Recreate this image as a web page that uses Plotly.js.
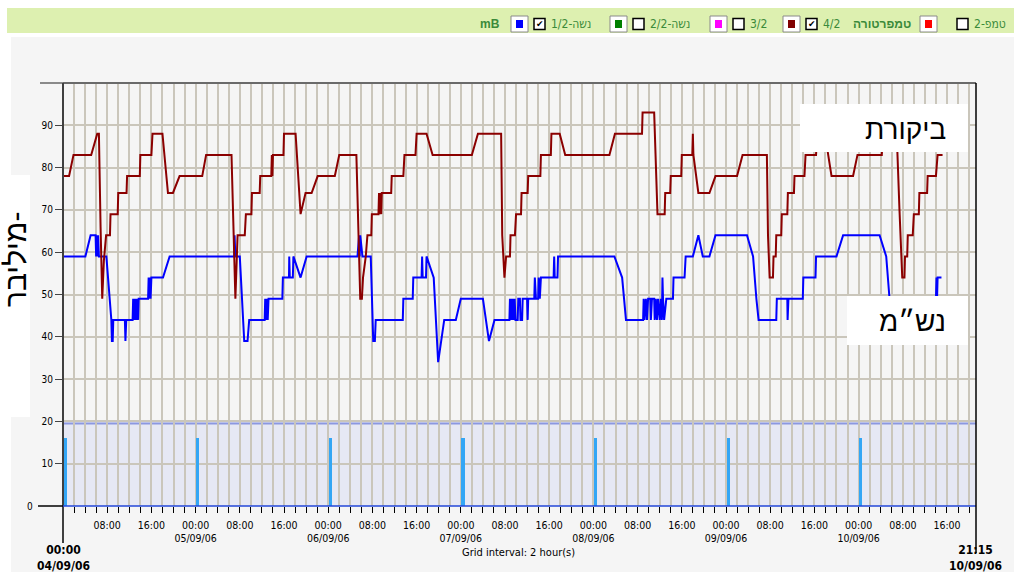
<!DOCTYPE html>
<html><head><meta charset="utf-8">
<script src="https://cdn.plot.ly/plotly-3.0.1.min.js"></script>
<style>html,body{margin:0;padding:0;background:#fff;overflow:hidden}#chart{width:1014px;height:572px}</style>
</head><body><div id="chart"></div>
<script>
// time axis: hours since 04/09/06 00:00
const tempHours = [0,1.1,1.9,5.1,6.2,6.5,6.8,7.1,7.4,7.8,8.5,8.6,9.9,10.0,11.5,11.6,13.9,14.0,16.0,16.2,18.0,19.0,19.9,21.1,25.2,25.9,30.5,30.8,31.2,31.6,32.9,33.1,34.1,34.2,35.6,35.7,37.7,37.8,37.9,38.0,39.9,40.0,42.1,43.0,43.9,45.0,46.1,49.2,50.0,53.1,53.4,53.8,54.1,54.3,54.8,55.1,55.8,55.9,57.1,57.2,57.3,57.5,57.6,57.7,59.4,59.5,61.6,61.8,63.8,64.0,65.8,66.9,74.0,75.1,79.3,79.5,79.9,80.2,80.9,81.0,81.8,82.0,82.9,83.0,84.1,84.2,86.4,86.5,88.3,88.4,89.9,90.9,98.9,99.9,104.8,104.9,107.0,107.6,108.9,109.0,109.9,110.0,111.9,112.0,113.9,114.0,114.1,115.0,117.0,118.1,122.0,123.0,127.4,127.6,127.9,128.5,128.6,129.0,129.1,130.0,130.1,131.1,131.2,132.3,132.4,134.2,134.4,136.3,136.5,137.9,139.1,143.0,143.8,148.2,148.4,150.9,151.4,151.9,152.3,152.4,152.8,152.9,153.8,154.0,154.9,155.0,156.4,156.5,158.0,158.3,159.2];
const tempValues = [78,78,83,83,88,88,66,49,58,64,64,69,69,74,74,78,78,83,83,88,88,74,74,78,78,83,83,65,49,64,64,69,69,74,74,78,78,83,78,83,83,88,88,69,74,74,78,78,83,83,65,49,49,54,59,64,64,69,69,74,69,74,69,74,74,78,78,83,83,88,88,83,83,88,88,64,54,59,59,64,64,69,69,74,74,78,78,83,83,88,88,83,83,88,88,93,93,69,69,74,74,78,78,83,83,88,83,74,74,78,78,83,83,64,54,54,59,59,64,64,69,69,74,74,78,78,83,83,88,88,78,78,83,83,88,88,70,54,54,59,59,64,64,69,69,74,74,78,78,83,83];
const breathHours = [0,4.05,5.0,5.9,6.0,6.1,6.25,6.35,6.5,7.85,8.75,8.85,9.0,9.1,11.2,11.3,11.45,12.6,12.7,12.8,12.95,13.05,13.2,13.3,13.45,13.6,13.7,15.4,15.5,15.6,15.75,15.85,16.0,18.1,19.3,31.0,31.05,31.2,32.0,32.6,32.8,33.4,33.7,36.5,36.6,36.75,36.9,37.05,37.2,39.7,39.8,40.9,40.95,41.05,41.6,41.7,43.0,44.1,53.3,53.6,53.7,53.8,54.2,55.7,56.0,56.15,56.45,56.6,61.5,61.6,63.3,63.4,64.9,65.0,65.1,65.7,65.8,67.1,67.9,69.0,71.1,72.0,76.0,77.1,78.1,80.8,80.9,81.0,81.15,81.3,81.45,81.6,81.75,81.9,82.3,82.4,82.7,82.8,83.1,83.2,84.0,84.1,84.2,85.3,85.4,85.6,86.0,86.1,86.3,86.5,88.8,88.9,89.0,89.5,89.6,99.8,101.2,101.9,105.0,105.1,105.25,105.5,105.7,105.9,106.3,106.4,106.6,107.0,107.1,107.3,107.5,107.7,108.0,108.2,108.4,108.5,108.6,108.8,109.2,110.4,110.5,112.5,112.7,114.0,115.0,115.8,117.0,118.1,123.8,124.9,125.5,125.9,129.1,129.2,131.1,131.15,131.3,133.9,134.0,136.2,136.3,140.0,141.2,147.8,149.0,149.6,150.3,157.8,158.0,158.1,158.2,158.3,159.0];
const breathValues = [59,59,64,64,59,64,59,64,59,59,44,39,39,44,44,39,44,44,49,44,49,44,49,44,49,44,49,49,54,49,54,49,54,54,59,59,64,59,59,44,39,39,44,44,49,44,49,44,49,49,54,54,59,54,54,59,54,59,59,64,59,64,59,59,44,39,39,44,44,49,49,54,54,59,54,54,59,54,34,44,44,49,49,39,44,44,49,44,49,44,49,44,49,44,44,49,49,44,44,49,49,44,49,49,54,49,49,54,49,54,54,59,54,54,59,59,54,44,44,49,44,49,44,49,49,44,49,49,44,49,44,49,44,49,44,54,49,44,49,49,54,54,59,59,64,59,59,64,64,59,49,44,44,49,49,44,49,49,54,54,59,59,64,64,59,49,44,44,49,54,49,54,54];
const markerHours = [0.4,24.4,48.4,72.4,96.4,120.4,144.4];
const markerValues = [16,16,16,16,16,16,16];
const tickHours = [8,16,24,32,40,48,56,64,72,80,88,96,104,112,120,128,136,144,152,160];
const tickLabels = ["08:00","16:00","00:00<br>05/09/06","08:00","16:00","00:00<br>06/09/06","08:00","16:00","00:00<br>07/09/06","08:00","16:00","00:00<br>08/09/06","08:00","16:00","00:00<br>09/09/06","08:00","16:00","00:00<br>10/09/06","08:00","16:00"];
const yTickVals = [10,20,30,40,50,60,70,80,90];
const yTickLabels = ["10","20","30","40","50","60","70","80","90"];
const legendLabels = ["נשה-1/2","נשה-2/2","3/2","4/2","טמפ-2"];
const legendColors = ["#0000ff","#008000","#ff00ff","#800000","#ff0000"];
const legendChecked = [true,false,false,true,false];
const groupLabels = ["mB","טמפרטורה"];

// layout helpers (pixel -> paper)
const L=63,T=83,W=913,H=423,B=T+H;
const px = x => (x-L)/W;
const py = y => (B-y)/H;
const NARROW = "Liberation Sans Narrow, Arial Narrow, DejaVu Sans Condensed, sans-serif";
const SANS = "Liberation Sans, Arial, DejaVu Sans, sans-serif";
const GREEN = "#3a8a3a";

const traces = [
  {type:'bar', x:markerHours, y:markerValues, width:0.6, marker:{color:'#33a6f5', line:{width:0}}, hoverinfo:'skip'},
  {type:'scatter', mode:'lines', x:breathHours, y:breathValues, line:{color:'#0000ff', width:2}, hoverinfo:'skip'},
  {type:'scatter', mode:'lines', x:tempHours, y:tempValues, line:{color:'#8b0000', width:2}, hoverinfo:'skip'}
];

const shapes = [
  {type:'rect', xref:'paper', yref:'paper', x0:px(7), x1:px(1014), y0:py(33), y1:py(8), fillcolor:'#ddf0b0', line:{width:0}, layer:'below'},
  {type:'rect', xref:'paper', yref:'paper', x0:px(11), x1:px(1014), y0:py(572), y1:py(37), fillcolor:'#f5f5f5', line:{width:0}, layer:'below'},
  {type:'rect', xref:'paper', yref:'paper', x0:px(0), x1:px(30), y0:py(417), y1:py(175), fillcolor:'#ffffff', line:{width:0}, layer:'below'},
  {type:'rect', xref:'paper', yref:'y', x0:0, x1:1, y0:0, y1:20, fillcolor:'#e6e8f4', line:{width:0}, layer:'below'},
  {type:'line', xref:'paper', yref:'y', x0:0, x1:1, y0:19.5, y1:19.5, line:{color:'#8c98e0', width:2}, layer:'between'},
  {type:'line', xref:'paper', yref:'y', x0:0, x1:1, y0:10, y1:10, line:{color:'#7585dc', width:1.5}, layer:'between'},
  // frame
  {type:'line', xref:'paper', yref:'paper', x0:px(40), x1:0, y0:1, y1:1, line:{color:'#8a8a8a', width:2}, layer:'above'},
  {type:'line', xref:'paper', yref:'paper', x0:0, x1:1, y0:1, y1:1, line:{color:'#6a6a6a', width:2}, layer:'above'},
  {type:'line', xref:'paper', yref:'paper', x0:0, x1:0, y0:py(543), y1:1, line:{color:'#404040', width:2}, layer:'above'},
  {type:'line', xref:'paper', yref:'paper', x0:px(38), x1:0, y0:0, y1:0, line:{color:'#000000', width:1.5}, layer:'above'},
  {type:'line', xref:'paper', yref:'paper', x0:0, x1:1, y0:0, y1:0, line:{color:'#2347d8', width:1.5}, layer:'above'},
  {type:'line', xref:'paper', yref:'paper', x0:1, x1:1, y0:py(553), y1:1, line:{color:'#000000', width:1.5}, layer:'above'},
  // label boxes
  {type:'rect', xref:'paper', yref:'paper', x0:px(800), x1:px(968), y0:py(152), y1:py(104), fillcolor:'#ffffff', line:{width:0}, layer:'above'},
  {type:'rect', xref:'paper', yref:'paper', x0:px(847), x1:px(968), y0:py(345), y1:py(296), fillcolor:'#ffffff', line:{width:0}, layer:'above'}
];

const annotations = [
  {xref:'paper', yref:'paper', x:px(948), y:py(129), xanchor:'right', yanchor:'middle', text:'ביקורת', showarrow:false, font:{family:SANS, size:28, color:'#000'}},
  {xref:'paper', yref:'paper', x:px(948), y:py(321), xanchor:'right', yanchor:'middle', text:'נש״מ', showarrow:false, font:{family:SANS, size:28, color:'#000'}},
  {xref:'paper', yref:'paper', x:px(15), y:py(260), xanchor:'center', yanchor:'middle', text:'מיליבר-', textangle:-90, showarrow:false, font:{family:SANS, size:30, color:'#000'}},
  {xref:'paper', yref:'paper', x:px(518.5), y:py(552), xanchor:'center', yanchor:'middle', text:'Grid interval: 2 hour(s)', showarrow:false, font:{family:NARROW, size:11, color:'#000'}},
  {xref:'paper', yref:'paper', x:px(63.5), y:py(557.5), xanchor:'center', yanchor:'middle', text:'<b>00:00</b><br><b>04/09/06</b>', showarrow:false, font:{family:NARROW, size:12, color:'#000'}},
  {xref:'paper', yref:'paper', x:px(975.5), y:py(557.5), xanchor:'center', yanchor:'middle', text:'<b>21:15</b><br><b>10/09/06</b>', showarrow:false, font:{family:NARROW, size:12, color:'#000'}},
  {xref:'paper', yref:'paper', x:px(35), y:0, xanchor:'right', yanchor:'middle', text:'0', showarrow:false, font:{family:NARROW, size:10, color:'#000'}},
  {xref:'paper', yref:'paper', x:px(502), y:py(24), xanchor:'right', yanchor:'middle', text:'<b>'+groupLabels[0]+'</b>', showarrow:false, font:{family:SANS, size:12, color:GREEN}},
  {xref:'paper', yref:'paper', x:px(913), y:py(24), xanchor:'right', yanchor:'middle', text:'<b>'+groupLabels[1]+'</b>', showarrow:false, font:{family:SANS, size:12, color:GREEN}}
];

// legend items (positions in pixels)
const boxLeft = [511,610,710,783,920];
const chkLeft = [534,633,733,806,957];
legendLabels.forEach((lab,i)=>{
  const bx=boxLeft[i], cx=chkLeft[i];
  shapes.push({type:'rect', xref:'paper', yref:'paper', x0:px(bx), x1:px(bx+17), y0:py(32), y1:py(16), fillcolor:'#ffffff', line:{color:'#8a8a8a', width:1}, layer:'above'});
  shapes.push({type:'rect', xref:'paper', yref:'paper', x0:px(bx+5), x1:px(bx+12), y0:py(28), y1:py(20), fillcolor:legendColors[i], line:{width:0}, layer:'above'});
  shapes.push({type:'rect', xref:'paper', yref:'paper', x0:px(cx), x1:px(cx+11), y0:py(29.5), y1:py(18.5), fillcolor:'#ffffff', line:{color:'#000', width:1.5}, layer:'above'});
  if (legendChecked[i]) annotations.push({xref:'paper', yref:'paper', x:px(cx+5.5), y:py(24), xanchor:'center', yanchor:'middle', text:'✔', showarrow:false, font:{family:'DejaVu Sans', size:9, color:'#000'}});
  annotations.push({xref:'paper', yref:'paper', x:px(cx+15), y:py(24), xanchor:'left', yanchor:'middle', text:lab, showarrow:false, font:{family:NARROW, size:12, color:GREEN}});
});

const gridCol = '#cac6bb';
const layout = {
  width:1014, height:572, margin:{l:L, r:1014-L-W, t:T, b:572-B, pad:0},
  paper_bgcolor:'#ffffff', plot_bgcolor:'#f5f5f5', showlegend:false, bargap:0,
  xaxis:{range:[0,165.25], tickmode:'array', tickvals:tickHours, ticktext:tickLabels, ticks:'outside', ticklen:6, tickwidth:1, tickcolor:'#000',
    ticklabelstandoff:3,
    showgrid:true, gridcolor:gridCol, gridwidth:2, zeroline:false, showline:false, fixedrange:true,
    tickfont:{family:NARROW, size:10.5, color:'#000'},
    minor:{tickmode:'linear', tick0:0, dtick:2, ticks:'outside', ticklen:6, tickwidth:1, tickcolor:'#000', showgrid:true, gridcolor:gridCol, gridwidth:2}},
  yaxis:{range:[0,100], tickmode:'array', tickvals:yTickVals, ticktext:yTickLabels, ticks:'outside', ticklen:7, tickwidth:1, tickcolor:'#444',
    showgrid:true, gridcolor:gridCol, gridwidth:2, zeroline:false, showline:false, fixedrange:true,
    tickfont:{family:NARROW, size:10, color:'#000'}},
  shapes:shapes, annotations:annotations
};
Plotly.newPlot('chart', traces, layout, {displayModeBar:false, staticPlot:true});
</script></body></html>
